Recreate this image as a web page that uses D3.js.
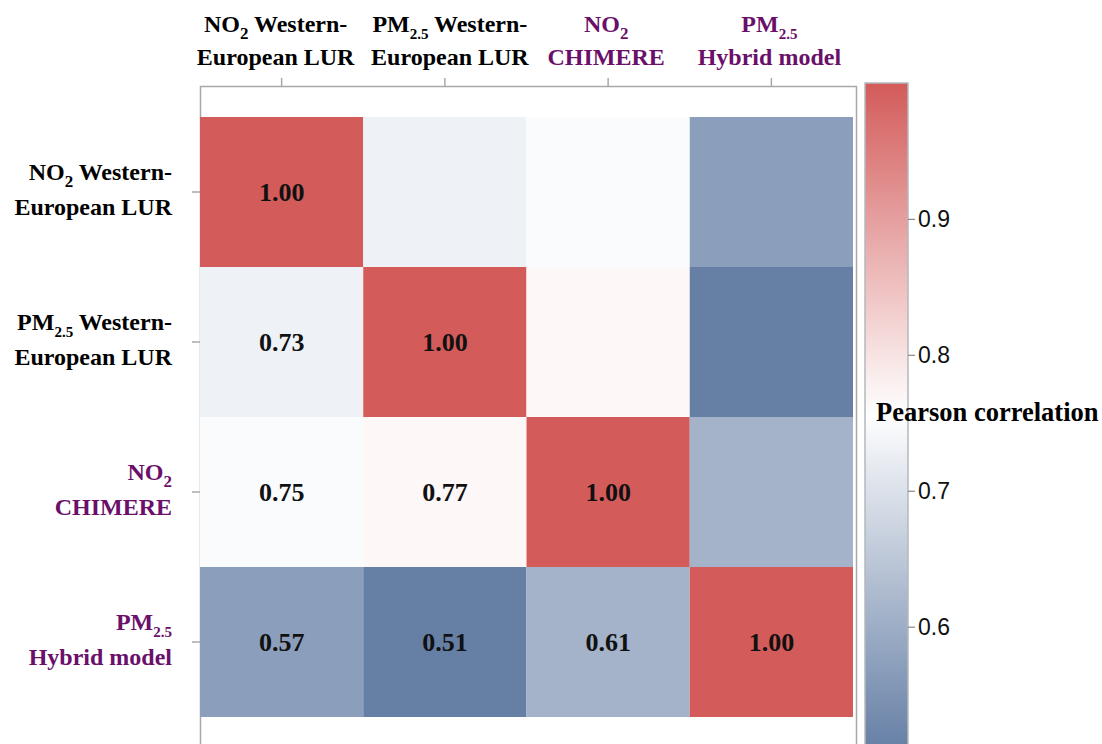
<!DOCTYPE html>
<html>
<head>
<meta charset="utf-8">
<script src="https://cdn.jsdelivr.net/npm/d3@7"></script>
<style>
  html, body { margin: 0; padding: 0; background: #fff; }
  svg { display: block; }
</style>
</head>
<body>
<svg id="chart" width="1102" height="744"></svg>
<script>
// ---- data ----
const categories = ["NO2 Western-European LUR", "PM2.5 Western-European LUR", "NO2 CHIMERE", "PM2.5 Hybrid model"];
const labelPollutant = ["NO", "PM", "NO", "PM"];
const labelSub = ["2", "2.5", "2", "2.5"];
const labelLine1Rest = [" Western-", " Western-", "", ""];
const labelLine2 = ["European LUR", "European LUR", "CHIMERE", "Hybrid model"];
const labelHighlighted = [false, false, true, true];
const correlation = [
  [1.00, 0.73, 0.75, 0.57],
  [0.73, 1.00, 0.77, 0.51],
  [0.75, 0.77, 1.00, 0.61],
  [0.57, 0.51, 0.61, 1.00]
];
const colorDomain = [0.51, 0.758, 1.00];
const colorRange = ["#667fa5", "#ffffff", "#d35b5a"];
const legendTicks = [0.6, 0.7, 0.8, 0.9];
const legendTitle = "Pearson correlation";

// ---- drawing ----
const svg = d3.select("#chart");
const serif = "'Liberation Serif', 'Times New Roman', serif";
const sans = "'Liberation Sans', Arial, sans-serif";
const purple = "#6a0f6a";
const frameColor = "#a8a8a8";

const x = d3.scaleBand().domain(d3.range(4)).range([200, 853]);
const y = d3.scaleBand().domain(d3.range(4)).range([117, 717]);
const color = d3.scaleLinear().domain(colorDomain).range(colorRange);

const cells = [];
correlation.forEach((row, i) => row.forEach((v, j) => cells.push({i, j, v})));

// frame
svg.append("rect")
  .attr("x", 200.5).attr("y", 86.5).attr("width", 656).attr("height", 700)
  .attr("fill", "#fff").attr("stroke", frameColor).attr("stroke-width", 1.5);

// cells
svg.append("g").selectAll("rect").data(cells).join("rect")
  .attr("x", d => x(d.j)).attr("y", d => y(d.i))
  .attr("width", x.bandwidth()).attr("height", y.bandwidth())
  .attr("fill", d => color(d.v));

// values (lower triangle incl. diagonal)
svg.append("g").selectAll("text").data(cells.filter(d => d.i >= d.j)).join("text")
  .attr("x", d => x(d.j) + x.bandwidth() / 2)
  .attr("y", d => y(d.i) + y.bandwidth() / 2 + 9)
  .attr("text-anchor", "middle")
  .attr("font-family", serif).attr("font-weight", "bold").attr("font-size", 26)
  .attr("fill", "#111")
  .text(d => d.v.toFixed(2));

// axes ticks
const topAxis = svg.append("g").attr("transform", "translate(0,86)")
  .call(d3.axisTop(x).tickSize(8).tickFormat(""));
const leftAxis = svg.append("g").attr("transform", "translate(200,0)")
  .call(d3.axisLeft(y).tickSize(8).tickFormat(""));
[topAxis, leftAxis].forEach(g => {
  g.select(".domain").remove();
  g.selectAll(".tick line").attr("stroke", frameColor).attr("stroke-width", 1.5);
});

function addLabel(g, k, anchor, xPos, y1, y2) {
  const fill = labelHighlighted[k] ? purple : "#000";
  const t1 = g.append("text").attr("x", xPos).attr("y", y1)
    .attr("text-anchor", anchor).attr("font-family", serif)
    .attr("font-weight", "bold").attr("font-size", 24).attr("fill", fill);
  t1.append("tspan").text(labelPollutant[k]);
  t1.append("tspan").attr("dy", 7).attr("font-size", labelSub[k].length > 1 ? 15 : 17).text(labelSub[k]);
  t1.append("tspan").attr("dy", -7).text(labelLine1Rest[k]);
  g.append("text").attr("x", xPos).attr("y", y2)
    .attr("text-anchor", anchor).attr("font-family", serif)
    .attr("font-weight", "bold").attr("font-size", 24).attr("fill", fill)
    .text(labelLine2[k]);
}

// top labels: the two long ones are nudged apart so they do not collide
const topNudge = [-6, 5, -2, -2];
const topLabels = svg.append("g");
d3.range(4).forEach(k => addLabel(topLabels, k, "middle", x(k) + x.bandwidth() / 2 + topNudge[k], 32, 65));
const leftLabels = svg.append("g");
d3.range(4).forEach(k => {
  const cy = y(k) + y.bandwidth() / 2;
  addLabel(leftLabels, k, "end", 172, cy - 12, cy + 23);
});

// colour bar
const barX = 865, barW = 43;
const cy = d3.scaleLinear().domain([colorDomain[0], colorDomain[2]]).range([749, 83]);
const defs = svg.append("defs");
const grad = defs.append("linearGradient").attr("id", "cbar")
  .attr("x1", 0).attr("y1", 1).attr("x2", 0).attr("y2", 0);
d3.range(0, 1.0001, 0.05).forEach(t => {
  const v = colorDomain[0] + t * (colorDomain[2] - colorDomain[0]);
  grad.append("stop").attr("offset", t).attr("stop-color", color(v));
});
svg.append("rect")
  .attr("x", barX).attr("y", cy(colorDomain[2])).attr("width", barW)
  .attr("height", cy(colorDomain[0]) - cy(colorDomain[2]))
  .attr("fill", "url(#cbar)").attr("stroke", "#b4b8bd").attr("stroke-width", 1.5);

const legAxis = svg.append("g").attr("transform", `translate(${barX + barW},0)`)
  .call(d3.axisRight(cy).tickValues(legendTicks).tickSize(7).tickPadding(3).tickFormat(d3.format(".1f")));
legAxis.select(".domain").remove();
legAxis.selectAll(".tick line").attr("stroke", "#888").attr("stroke-width", 1.2);
legAxis.selectAll(".tick text").attr("font-family", sans).attr("font-size", 23).attr("fill", "#111");

svg.append("text").attr("x", 876).attr("y", 421)
  .attr("font-family", serif).attr("font-weight", "bold").attr("font-size", 26.5)
  .attr("fill", "#000").text(legendTitle);
</script>
</body>
</html>
